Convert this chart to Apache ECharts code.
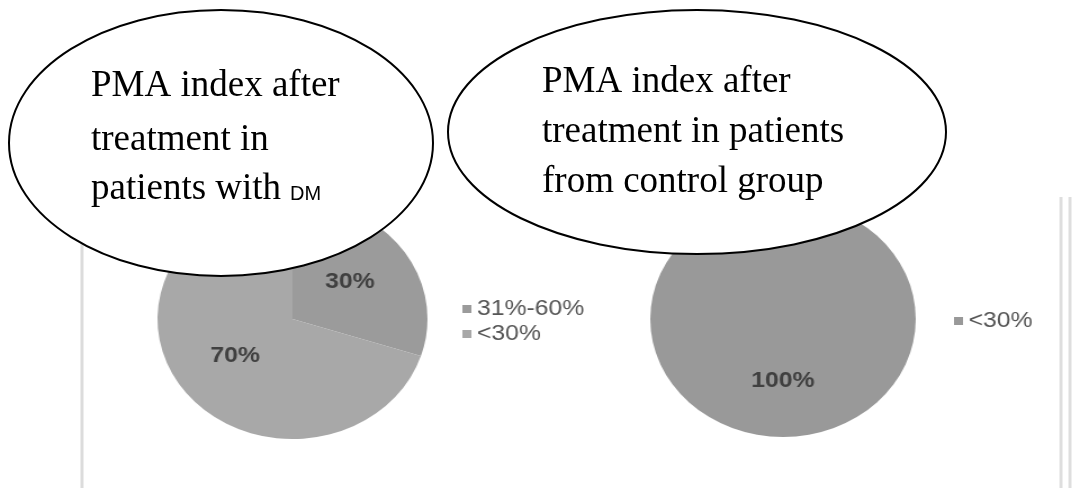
<!DOCTYPE html>
<html>
<head>
<meta charset="utf-8">
<script src="https://cdn.jsdelivr.net/npm/echarts@6/dist/echarts.min.js"></script>
<style>
  html, body { margin: 0; padding: 0; background: #fff; }
  #wrap { position: relative; width: 1072px; height: 488px; overflow: hidden; }
  /* the source figure was stretched sideways, so the pie layer is too */
  #pies { position: absolute; left: 0; top: 0; width: 953px; height: 488px;
          transform: scaleX(1.125); transform-origin: 0 0; }
  #notes { position: absolute; left: 0; top: 0; width: 1072px; height: 488px; pointer-events: none; }
</style>
</head>
<body>
<div id="wrap">
  <div id="pies"></div>
  <div id="notes"></div>
</div>
<script>
// 数据
const dmNames = ['31%-60%', '<30%'];
const dmValues = [30, 70];
const dmColors = ['#9b9b9b', '#a8a8a8'];

const ctrlNames = ['<30%'];
const ctrlValues = [100];
const ctrlColors = ['#999999'];

const noteDm = ['PMA index after', 'treatment in', 'patients with'];
const noteCtrl = ['PMA index after', 'treatment in patients', 'from control group'];

const sans = '"Liberation Sans", Arial, sans-serif';
const serif = '"Liberation Serif", "Times New Roman", serif';

let toData = (names, values, colors) => names.map((n, i) => ({
    name: n, value: values[i], itemStyle: { color: colors[i] }
}));

let pieBase = {
    type: 'pie',
    startAngle: 90,
    clockwise: true,
    silent: true,
    animation: false,
    itemStyle: { borderWidth: 0 },
    label: {
        position: 'inside',
        formatter: '{c}%',
        color: '#404040',
        fontSize: 22,
        fontWeight: 'bold',
        fontFamily: sans
    },
    labelLine: { show: false },
    emphasis: { disabled: true }
};

var pieChart = echarts.init(document.getElementById('pies'));
pieChart.setOption({
    backgroundColor: '#fff',
    animation: false,
    legend: [{
        left: 406, top: 291.5,
        orient: 'vertical',
        icon: 'rect', itemWidth: 8, itemHeight: 8, itemGap: 0,
        selectedMode: false,
        textStyle: { color: '#555', fontSize: 22, lineHeight: 25, fontFamily: sans },
        data: dmNames.map((n, i) => ({ name: n, itemStyle: { color: dmColors[i] } }))
    }, {
        left: 843, top: 303.5,
        orient: 'vertical',
        icon: 'rect', itemWidth: 8, itemHeight: 8, itemGap: 0,
        selectedMode: false,
        textStyle: { color: '#555', fontSize: 22, lineHeight: 25, fontFamily: sans },
        data: ctrlNames.map((n, i) => ({ name: n, itemStyle: { color: ctrlColors[i] } }))
    }],
    series: [
        Object.assign({}, pieBase, {
            name: 'DM', center: [260, 319], radius: 120,
            data: toData(dmNames, dmValues, dmColors)
        }),
        Object.assign({}, pieBase, {
            name: 'control', center: [696, 319], radius: 118,
            data: toData(ctrlNames, ctrlValues, ctrlColors)
        })
    ]
});

// 说明气泡 + 边框线
let noteText = (lines, x, ys) => lines.map((t, i) => ({
    type: 'text', z: 20,
    style: { text: t, x: x, y: ys[i], fill: '#000', font: '37px ' + serif, verticalAlign: 'middle' }
}));

var noteChart = echarts.init(document.getElementById('notes'));
noteChart.setOption({
    backgroundColor: 'transparent',
    animation: false,
    graphic: [
        { type: 'line', z: 1, shape: { x1: 82, y1: 197, x2: 82, y2: 488 }, style: { stroke: '#dcdcdc', lineWidth: 3 } },
        { type: 'line', z: 1, shape: { x1: 1061, y1: 197, x2: 1061, y2: 488 }, style: { stroke: '#dedede', lineWidth: 3 } },
        { type: 'line', z: 1, shape: { x1: 1070, y1: 197, x2: 1070, y2: 488 }, style: { stroke: '#dedede', lineWidth: 3 } },
        { type: 'ellipse', z: 10, shape: { cx: 221, cy: 143, rx: 212, ry: 133 }, style: { fill: '#fff', stroke: '#000', lineWidth: 2 } },
        { type: 'ellipse', z: 10, shape: { cx: 697, cy: 132, rx: 249, ry: 122 }, style: { fill: '#fff', stroke: '#000', lineWidth: 2 } }
    ].concat(
        noteText(noteDm, 91, [86.5, 140.5, 189.5]),
        [{ type: 'text', z: 20, style: { text: 'DM', x: 290, y: 194, fill: '#000', font: '20px ' + sans, verticalAlign: 'middle' } }],
        noteText(noteCtrl, 542, [82.5, 132.5, 182.5])
    )
});
</script>
</body>
</html>
